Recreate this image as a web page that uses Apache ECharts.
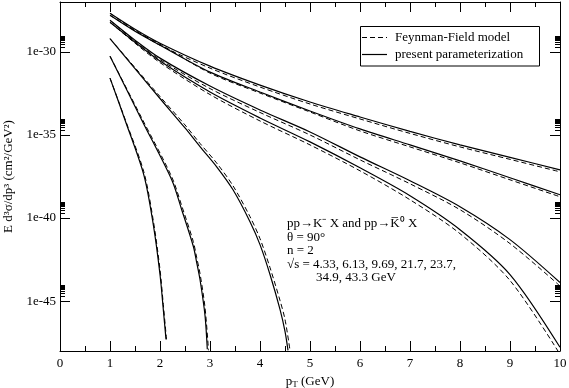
<!DOCTYPE html>
<html><head><meta charset="utf-8">
<script src="https://cdn.jsdelivr.net/npm/echarts@6/dist/echarts.min.js"></script>
<style>html,body{margin:0;padding:0;background:#fff}#c{width:569px;height:388px}</style>
</head><body><div id="c"></div>
<script>
// sqrt(s) values (GeV)
const energies = ['4.33', '6.13', '9.69', '21.7', '23.7', '34.9', '43.3'];
const legendNames = ['Feynman-Field model', 'present parameterization'];

// pT grids (GeV)
const pt_433 = [1.0, 1.3, 1.676, 1.866, 2.0, 2.066, 2.12];
const pt_433d = [1.0, 1.3, 1.676, 1.866, 2.0, 2.066, 2.13];
const pt_613 = [1.0, 1.634, 2.234, 2.434, 2.666, 2.734, 2.8, 2.9, 2.946];
const pt_613d = [1.0, 1.634, 2.234, 2.434, 2.666, 2.734, 2.8, 2.9, 2.97];
const pt_969 = [1.0, 1.5, 2.0, 2.5, 2.8, 3.13, 3.46, 3.8, 4.0, 4.2, 4.4, 4.5, 4.56];
const pt_969d = [1.0, 1.5, 2.0, 2.5, 2.8, 3.13, 3.46, 3.8, 4.0, 4.2, 4.4, 4.5, 4.6];
const pt_hi  = [1.0, 1.5, 2.0, 3.0, 4.0, 5.0, 6.0, 7.0, 8.0, 9.0, 10.0];

// present parameterization (solid), E d3sigma/dp3 in cm^2/GeV^2
const pp_433 = [2.64e-32, 7.98e-35, 4.0e-38, 4.0e-41, 4.0e-44, 3.18e-46, 5.04e-48];
const pp_613 = [5.52e-31, 7.98e-35, 2.00e-38, 3.18e-40, 2.0e-42, 2.10e-43, 2.00e-44, 1.39e-46, 1.26e-48];
const pp_969 = [6.19e-30, 9.82e-32, 1.56e-33, 2.64e-35, 2.0e-36, 1.26e-37, 5.04e-39, 6.05e-41, 2.52e-42, 4.0e-44, 3.18e-46, 1.52e-47, 1.10e-48];
const pp_217 = [6.05e-29, 3.82e-30, 2.77e-31, 3.82e-33, 1.05e-34, 3.82e-36, 1.05e-37, 2.20e-39, 2.00e-41, 4.00e-44, 1.67e-48];
const pp_237 = [7.98e-29, 5.04e-30, 4.19e-31, 8.75e-33, 3.18e-34, 1.52e-35, 4.81e-37, 1.75e-38, 4.81e-40, 5.04e-42, 1.32e-44];
const pp_349 = [1.59e-28, 1.75e-29, 2.52e-30, 6.05e-32, 3.82e-33, 2.77e-34, 2.30e-35, 2.52e-36, 2.77e-37, 2.64e-38, 2.52e-39];
const pp_433b = [2.10e-28, 2.30e-29, 3.33e-30, 1.39e-31, 1.00e-32, 9.59e-34, 1.21e-34, 1.63e-35, 2.52e-36, 4.49e-37, 7.98e-38];

// Feynman-Field model (dashed)
const ff_433 = [2.64e-32, 9.16e-35, 6.05e-38, 6.95e-41, 7.98e-44, 6.34e-46, 5.04e-48];
const ff_613 = [5.52e-31, 1.05e-34, 3.03e-38, 5.52e-40, 3.82e-42, 4.19e-43, 4.59e-44, 4.19e-46, 1.10e-48];
const ff_969 = [6.19e-30, 1.13e-31, 2.05e-33, 4.0e-35, 3.10e-36, 2.10e-37, 8.75e-39, 1.21e-40, 5.78e-42, 1.05e-43, 1.10e-45, 7.98e-47, 1.10e-48];
const ff_217 = [6.05e-29, 3.33e-30, 2.25e-31, 2.70e-33, 6.95e-35, 2.52e-36, 6.95e-38, 1.26e-39, 1.15e-41, 1.75e-44, 6.34e-49];
const ff_237 = [7.98e-29, 4.39e-30, 3.40e-31, 6.19e-33, 2.25e-34, 1.00e-35, 3.18e-37, 1.15e-38, 3.18e-40, 2.90e-42, 8.17e-45];
const ff_349 = [1.59e-28, 1.87e-29, 2.90e-30, 5.27e-32, 3.33e-33, 2.41e-34, 1.75e-35, 1.91e-36, 2.10e-37, 2.00e-38, 1.91e-39];
const ff_433b = [2.10e-28, 2.00e-29, 2.52e-30, 1.05e-31, 7.62e-33, 7.28e-34, 9.16e-35, 1.24e-35, 1.91e-36, 3.40e-37, 6.05e-38];

// y tick labels (decade exponents) and minor tick mantissas
const yMajorExp = [-45, -40, -35, -30];
const yMinorMant = [2, 3, 4, 5, 6, 7, 8, 9];

const curves = [
  [pt_433, pt_433d, pp_433, ff_433],
  [pt_613, pt_613d, pp_613, ff_613],
  [pt_969, pt_969d, pp_969, ff_969],
  [pt_hi, pt_hi, pp_217, ff_217],
  [pt_hi, pt_hi, pp_237, ff_237],
  [pt_hi, pt_hi, pp_349, ff_349],
  [pt_hi, pt_hi, pp_433b, ff_433b]
];

const FONT = 'Liberation Serif';
const DASH = [5, 3];
const zip = (xs, ys) => xs.map((x, i) => [x, ys[i]]);
const series = [];
curves.forEach(([xs, xd, solid, dashed]) => {
  series.push({type: 'line', name: legendNames[0], data: zip(xd, dashed), symbol: 'none', color: '#000',
    smooth: 0.3, xAxisIndex: 0, yAxisIndex: 0, lineStyle: {color: '#000', width: 1, type: DASH}, z: 3});
  series.push({type: 'line', name: legendNames[1], data: zip(xs, solid), symbol: 'none', color: '#000',
    smooth: 0.3, xAxisIndex: 0, yAxisIndex: 0, lineStyle: {color: '#000', width: 1.2, type: 'solid'}, z: 3});
});

const yMinorExp = [];
yMajorExp.forEach(d => yMinorMant.forEach(m => yMinorExp.push(d + Math.log10(m))));

const xBase = {
  type: 'value', min: 0, max: 10, interval: 1,
  axisLine: {lineStyle: {color: '#000', width: 1}},
  axisTick: {inside: true, length: 10, lineStyle: {color: '#000'}},
  minorTick: {show: true, splitNumber: 2, length: 5, lineStyle: {color: '#000'}},
  splitLine: {show: false}, minorSplitLine: {show: false}
};
const tickAxis = (pos, len, vals, showLine, label) => ({
  type: 'value', min: -48, max: -27, position: pos,
  axisLine: {show: showLine, onZero: false, lineStyle: {color: '#000', width: 1}},
  axisTick: {show: true, inside: true, length: len, customValues: vals, lineStyle: {color: '#000'}},
  axisLabel: label ? {show: true, customValues: vals, color: '#000', fontFamily: FONT, fontSize: 13, margin: 4,
      formatter: v => '1e' + v} : {show: false},
  splitLine: {show: false}, minorTick: {show: false}
});

const chart = echarts.init(document.getElementById('c'));
chart.setOption({
  animation: false,
  backgroundColor: '#fff',
  grid: {left: 60, right: 9, top: 2, bottom: 37, containLabel: false, outerBoundsMode: 'none'},
  xAxis: [
    Object.assign({}, xBase, {position: 'bottom',
      axisLabel: {color: '#000', fontFamily: FONT, fontSize: 13, margin: 6},
      name: '{a|p}{b|T}{a| (GeV)}', nameLocation: 'middle', nameGap: 18,
      nameTextStyle: {rich: {
        a: {fontFamily: FONT, fontSize: 13, color: '#000'},
        b: {fontFamily: FONT, fontSize: 9, color: '#000', padding: [7, 0, 0, 0]}
      }}}),
    Object.assign({}, xBase, {position: 'top', axisLabel: {show: false}})
  ],
  yAxis: [
    {type: 'log', logBase: 10, min: 1e-48, max: 1e-27, position: 'left',
      axisLine: {show: false}, axisTick: {show: false}, axisLabel: {show: false},
      splitLine: {show: false}, minorTick: {show: false}},
    Object.assign(tickAxis('left', 10, yMajorExp, true, true), {
      name: 'E d³σ/dp³ (cm²/GeV²)', nameLocation: 'middle', nameGap: 38, nameRotate: 90,
      nameTextStyle: {fontFamily: FONT, fontSize: 13, color: '#000'}}),
    tickAxis('left', 5, yMinorExp, false, false),
    tickAxis('right', 10, yMajorExp, true, false),
    tickAxis('right', 5, yMinorExp, false, false)
  ],
  graphic: [
    {type: 'rect', shape: {x: 360.5, y: 26.5, width: 179, height: 39.5},
      style: {fill: '#fff', stroke: '#000', lineWidth: 1}, z: 10},
    {type: 'line', shape: {x1: 362, y1: 37.5, x2: 387, y2: 37.5},
      style: {stroke: '#000', lineWidth: 1, lineDash: DASH}, z: 11},
    {type: 'line', shape: {x1: 362, y1: 54.5, x2: 387, y2: 54.5},
      style: {stroke: '#000', lineWidth: 1.2}, z: 11},
    {type: 'text', x: 395, y: 37.5, style: {text: legendNames[0], font: '13px "Liberation Serif"', fill: '#000', verticalAlign: 'middle'}, z: 11},
    {type: 'text', x: 395, y: 54.5, style: {text: legendNames[1], font: '13px "Liberation Serif"', fill: '#000', verticalAlign: 'middle'}, z: 11},
    {type: 'text', x: 287, y: 224, style: {text: 'pp→K⁻ X and pp→K̅⁰ X', font: '13px "Liberation Serif"', fill: '#000', verticalAlign: 'middle'}},
    {type: 'text', x: 287, y: 237.5, style: {text: 'θ = 90°', font: '13px "Liberation Serif"', fill: '#000', verticalAlign: 'middle'}},
    {type: 'text', x: 287, y: 251, style: {text: 'n = 2', font: '13px "Liberation Serif"', fill: '#000', verticalAlign: 'middle'}},
    {type: 'text', x: 287, y: 264.5, style: {text: '√s = ' + energies.slice(0, 5).join(', ') + ',', font: '13px "Liberation Serif"', fill: '#000', verticalAlign: 'middle'}},
    {type: 'text', x: 316, y: 278, style: {text: energies.slice(5).join(', ') + ' GeV', font: '13px "Liberation Serif"', fill: '#000', verticalAlign: 'middle'}}
  ],
  series: series
});
</script></body></html>
